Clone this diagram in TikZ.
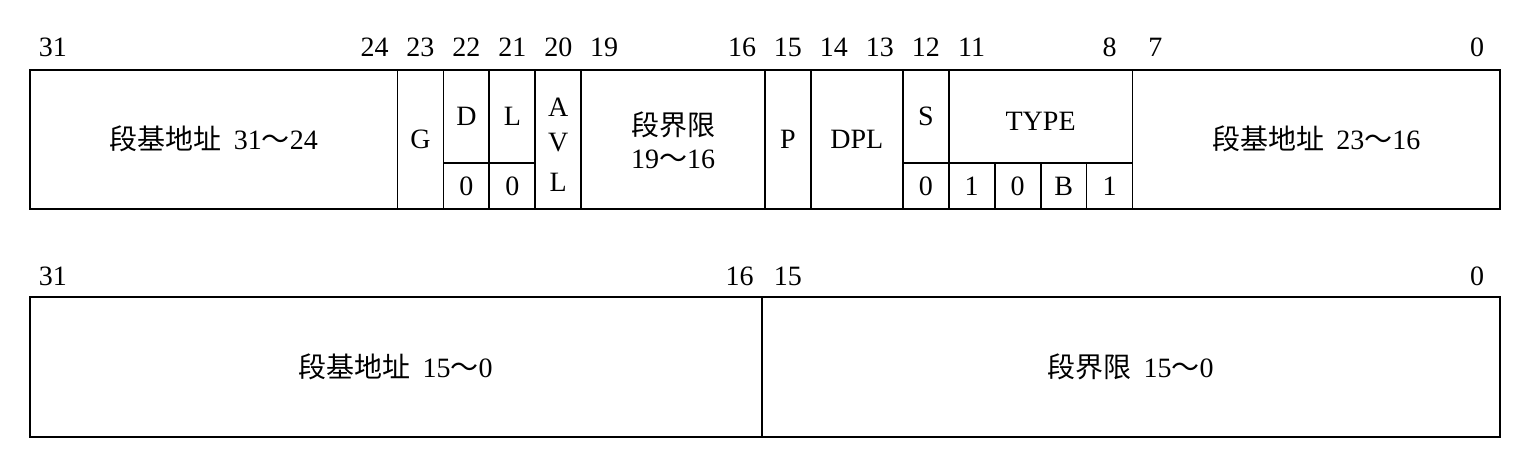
\documentclass[tikz,border=0pt]{standalone}
\usepackage{fontspec}
\setmainfont{Liberation Serif}
\newfontfamily\cjk{Noto Sans CJK SC}
\newcommand{\zh}[1]{{\cjk #1}\hspace{6pt}}
\newcommand{\wave}{{\cjk ～}}

\begin{document}
\begin{tikzpicture}[x=22.96875pt, y=-0.5pt, line width=0.9pt,
    every node/.style={inner sep=0pt, font=\fontsize{14}{16}\selectfont}]
      \useasboundingbox (-0.6531,0) rectangle (32.479,459);
      % first double word
      \draw (0,70) rectangle (32,209);
      \foreach \x in {8,9,10,11,12,16,17,19,20,24}
        \draw (\x,70) -- (\x,209);
      \draw (9,163) -- (11,163);
      \draw (19,163) -- (24,163);
      \foreach \x in {21,22,23}
        \draw (\x,163) -- (\x,209);
      % bit numbers
      \foreach \b/\x in {31/0.5, 24/7.5, 23/8.5, 22/9.5, 21/10.5, 20/11.5, 19/12.5,
          16/15.5, 15/16.5, 14/17.5, 13/18.5, 12/19.5, 11/20.5, 8/23.5, 7/24.5, 0/31.5}
        \node (n\b) at (\x,47) {\b};
      \node(base3) at (4,139) {\zh{段基地址}31\wave24};
      \node(g) at (8.5,139) {G};
      \node(d) at (9.5,116) {D};
      \node(l) at (10.5,116) {L};
      \node(d0) at (9.5,186) {0};
      \node(l0) at (10.5,186) {0};
      \node(avla) at (11.5,107) {A};
      \node(avlv) at (11.5,143) {V};
      \node(avll) at (11.5,182) {L};
      \node(lim2) at (14,125) {{\cjk 段界限}};
      \node(lim2n) at (14,159) {19\wave16};
      \node(p) at (16.5,139) {P};
      \node(dpl) at (18,139) {DPL};
      \node(s) at (19.5,116) {S};
      \node(type) at (22,121) {TYPE};
      \node(s0) at (19.5,186) {0};
      \node(t11) at (20.5,186) {1};
      \node(t10) at (21.5,186) {0};
      \node(t9) at (22.5,186) {B};
      \node(t8) at (23.5,186) {1};
      \node(base2) at (28,139) {\zh{段基地址}23\wave16};
      % second double word
      \draw (0,297) rectangle (32,437);
      \draw (15.93,297) -- (15.93,437);
      \node(m31) at (0.5,276) {31};
      \node(m16) at (15.45,276) {16};
      \node(m15) at (16.5,276) {15};
      \node(m0) at (31.5,276) {0};
      \node(base1) at (7.96,367) {\zh{段基地址}15\wave0};
      \node(lim1) at (23.96,367) {\zh{段界限}15\wave0};
    \end{tikzpicture}
\end{document}
